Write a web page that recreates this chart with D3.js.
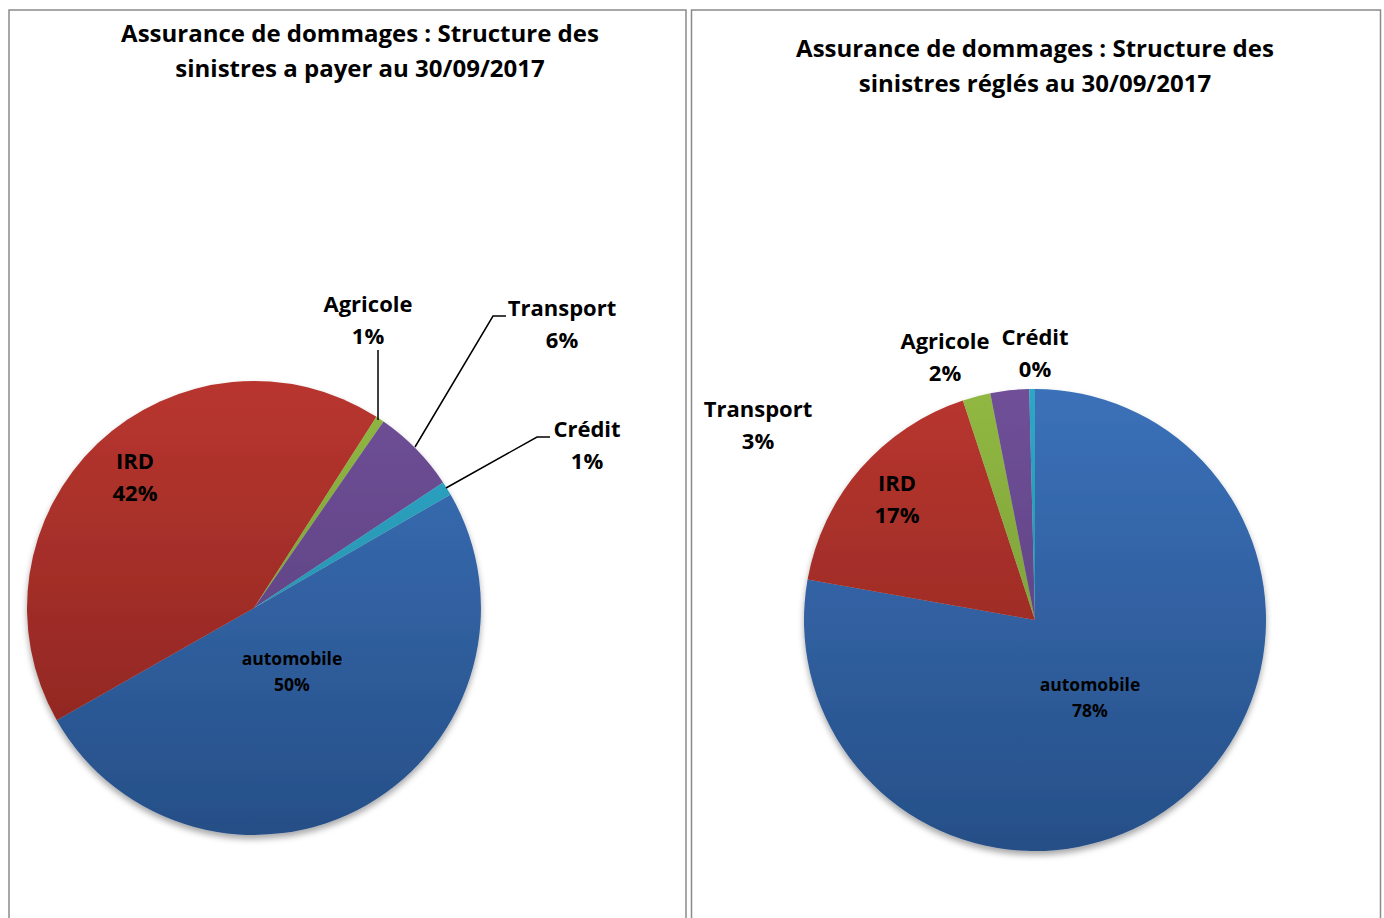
<!DOCTYPE html>
<meta charset="utf-8">
<style>
body { margin:0; background:#fff; }
text { font-family: "Open Sans", Lato, sans-serif; font-weight:bold; fill:#000; }
.title { font-size:24px; text-anchor:middle; }
.lbl { font-size:22px; text-anchor:middle; }
.lbl.small { font-size:17.5px; }
.frame { fill:none; stroke:#8a8a8a; stroke-width:1.5px; }
.leader { stroke:#000; stroke-width:1.5px; fill:none; }
</style>
<body>
<script src="https://d3js.org/d3.v7.min.js"></script>
<script>

// categories, in the order the slices run clockwise
var categories = ["automobile","IRD","Agricole","Transport","Crédit"];
// share of each category (%), sinistres a payer
var payer = [50.1, 42.3, 0.6, 6.0, 1.0];
// share of each category (%), sinistres réglés
var regles = [77.8, 17.15, 1.95, 2.7, 0.4];
// labels as printed
var payerLabels = ["50%","42%","1%","6%","1%"];
var reglesLabels = ["78%","17%","2%","3%","0%"];

var titles = [
  ["Assurance de dommages : Structure des","sinistres a payer au 30/09/2017"],
  ["Assurance de dommages : Structure des","sinistres réglés au 30/09/2017"]
];

var colors = {
  "automobile":["#3b71b9","#264f87"],
  "IRD":["#b8362f","#86231f"],
  "Agricole":["#91b842","#6f8f33"],
  "Transport":["#6f5098","#553b78"],
  "Crédit":["#2ea6c6","#2287a2"]
};

var svg = d3.select("body").append("svg").attr("width",1384).attr("height",918);
var defs = svg.append("defs");

var f = defs.append("filter").attr("id","shadow")
  .attr("x","-10%").attr("y","-10%").attr("width","120%").attr("height","125%");
f.append("feDropShadow").attr("dx",0).attr("dy",4).attr("stdDeviation",3)
  .attr("flood-color","#000").attr("flood-opacity",0.35);

// panel layout
var panels = [
  {frame:[9,10,677,920], cx:254, cy:608, r:227, start:60, titleY:42, titleX:360,
   values:payer, labels:payerLabels, titles:titles[0],
   // label centre positions and leader line points, per category
   lblPos:{"automobile":[292,659,true],"IRD":[135,461],"Agricole":[368,304],"Transport":[562,308],"Crédit":[587,429]},
   leaders:{"Agricole":[[378,420],[378,350]],"Transport":[[415,447],[493,316],[506,316]],"Crédit":[[446,488],[537,437],[550,437]]}
  },
  {frame:[691.5,10,689,920], cx:1035, cy:620, r:231, start:0, titleY:57, titleX:1035,
   values:regles, labels:reglesLabels, titles:titles[1],
   lblPos:{"automobile":[1090,685,true],"IRD":[897,483],"Agricole":[945,341],"Transport":[758,409],"Crédit":[1035,337]},
   leaders:{}
  }
];

panels.forEach(function(p,pi){
  var g = svg.append("g");
  g.append("rect").attr("class","frame")
    .attr("x",p.frame[0]).attr("y",p.frame[1]).attr("width",p.frame[2]).attr("height",p.frame[3]);

  g.selectAll(".title").data(p.titles).enter().append("text").attr("class","title")
    .attr("x",p.titleX).attr("y",function(d,i){ return p.titleY + i*35; })
    .text(function(d){ return d; });

  // vertical gradients over the pie's height (in the pie group's coordinates)
  categories.forEach(function(c,i){
    var lg = defs.append("linearGradient").attr("id","g"+pi+"_"+i)
      .attr("gradientUnits","userSpaceOnUse")
      .attr("x1",0).attr("x2",0).attr("y1",-p.r).attr("y2",p.r);
    lg.append("stop").attr("offset","0%").attr("stop-color",colors[c][0]);
    lg.append("stop").attr("offset","100%").attr("stop-color",colors[c][1]);
  });

  var pie = d3.pie().sort(null)
    .startAngle(p.start*Math.PI/180).endAngle(p.start*Math.PI/180 + 2*Math.PI);
  var arc = d3.arc().innerRadius(0).outerRadius(p.r);

  var pg = g.append("g").attr("transform","translate("+p.cx+","+p.cy+")")
    .attr("filter","url(#shadow)");
  pg.selectAll("path").data(pie(p.values)).enter().append("path")
    .attr("d",arc)
    .attr("fill",function(d,i){ return "url(#g"+pi+"_"+i+")"; });

  // leader lines
  Object.keys(p.leaders).forEach(function(k){
    g.append("path").attr("class","leader").attr("d",d3.line()(p.leaders[k]));
  });

  // labels
  categories.forEach(function(c,i){
    var lp = p.lblPos[c];
    var small = !!lp[2];
    var dy = small ? 26 : 32;
    var t = g.append("text").attr("class", small ? "lbl small" : "lbl");
    t.append("tspan").attr("x",lp[0]).attr("y",lp[1]+ (small?6:8)).text(c);
    t.append("tspan").attr("x",lp[0]).attr("y",lp[1]+dy+(small?6:8)).text(p.labels[i]);
  });
});
</script>
</body>
